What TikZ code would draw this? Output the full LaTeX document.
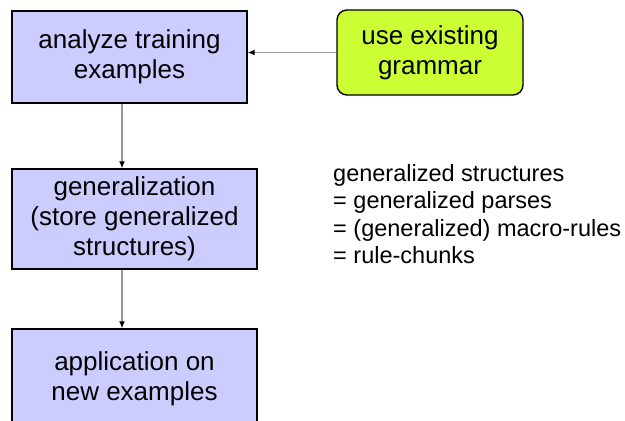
\documentclass[tikz,border=0pt]{standalone}
\usepackage{fontspec}
\setmainfont{Liberation Sans}
\usetikzlibrary{arrows.meta}
\begin{document}
\begin{tikzpicture}[x=1bp,y=-1bp,
  stepbox/.style={draw=black, line width=1.4bp, fill=stepfill, inner sep=0pt,
    align=center, font=\fontsize{26bp}{30bp}\selectfont},
  sourcebox/.style={stepbox, fill=sourcefill, rounded corners=10bp},
  flow/.style={draw=flowgray, line width=1.3bp,
    -{Latex[length=7bp,width=6bp,black]}},
  note/.style={inner sep=0pt, align=left, font=\fontsize{23.5bp}{27.3bp}\selectfont}]
\definecolor{stepfill}{HTML}{CCCCFF}
\definecolor{sourcefill}{HTML}{CCFF33}
\definecolor{flowgray}{HTML}{999999}
\clip (0,0) rectangle (625,420);
\fill[white] (0,0) rectangle (625,420);

% process boxes
\node[stepbox, minimum width=235bp, minimum height=92bp] (analyze) at (129.5,57)
  {analyze training\\examples};
\node[sourcebox, minimum width=186bp, minimum height=85bp] (grammar) at (430,52.5)
  {use existing\\grammar};
\node[stepbox, minimum width=245bp, minimum height=100bp] (general) at (134.5,219)
  {generalization\\(store generalized\\structures)};
\node[stepbox, minimum width=245bp, minimum height=100bp] (apply) at (134.5,379)
  {application on\\new examples};

% connectors
\coordinate (spine) at (122,0);
\draw[flow] (grammar.west) -- (grammar.west -| analyze.east);
\draw[flow] (analyze.south -| spine) -- (general.north -| spine);
\draw[flow] (general.south -| spine) -- (apply.north -| spine);

% side note
\node[note, anchor=west] (synonyms) at (333,214)
  {generalized structures\\= generalized parses\\= (generalized) macro-rules\\= rule-chunks};
\end{tikzpicture}
\end{document}
